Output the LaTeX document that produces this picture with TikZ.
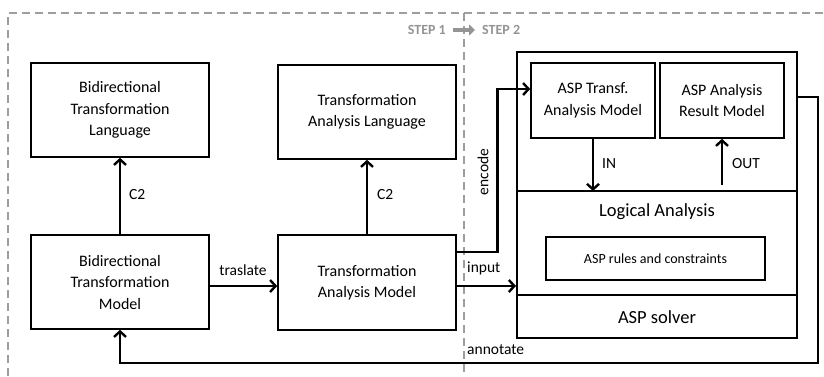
\documentclass[tikz,border=0pt]{standalone}
\usepackage{fontspec}
\setmainfont{Carlito}
\usetikzlibrary{arrows.meta}
\begin{document}
\begin{tikzpicture}[x=1pt,y=-1pt,
  box/.style={draw,line width=1.6pt,align=center,inner sep=0pt,
    font=\fontsize{16}{21.5}\selectfont},
  conn/.style={line width=2.7pt,line cap=butt,
    -{Straight Barb[length=5.5pt,width=12pt,line width=2.4pt]}},
  lbl/.style={font=\fontsize{15.5}{18}\selectfont,inner sep=1pt},
  frame/.style={draw=black!38,line width=1.2pt,dash pattern=on 8pt off 5pt},
  steptxt/.style={font=\fontsize{14}{16}\selectfont\bfseries,text=black!42,inner sep=1pt}]
\useasboundingbox (0,0) rectangle (824,376);

% dashed frame and step divider
\draw[frame] (8,376) -- (8,13) -- (824,13);
\draw[frame] (464,13) -- (464,376);
\node[steptxt,anchor=east] (s1) at (447,30) {STEP 1};
\node[steptxt,anchor=west] (s2) at (481,30) {STEP 2};
\draw[draw=black!42,line width=3.5pt,-{Triangle[length=6pt,width=11pt]},
  shorten <=6pt,shorten >=6pt] (s1) -- (s2);

% step 1 boxes
\node[box,minimum width=178pt,minimum height=94pt] (btl) at (120,110)
  {Bidirectional\\Transformation\\Language};
\node[box,minimum width=178pt,minimum height=94pt] (btm) at (120,282)
  {Bidirectional\\Transformation\\Model};
\node[box,minimum width=178pt,minimum height=94pt] (tal) at (367,112)
  {Transformation\\Analysis Language};
\node[box,minimum width=178pt,minimum height=95pt] (tam) at (367,282.5)
  {Transformation\\Analysis Model};

% step 2: ASP block
\node[draw,line width=2pt,minimum width=280pt,minimum height=286pt,inner sep=0pt] (asp) at (657,195) {};
\coordinate (la) at (657,191);
\coordinate (sv) at (657,295);
\draw[line width=1.8pt] (asp.west |- la) -- (asp.east |- la);
\draw[line width=1.8pt] (asp.west |- sv) -- (asp.east |- sv);
\node[box,minimum width=124pt,minimum height=75pt] (ast) at (593,100.5)
  {ASP Transf.\\Analysis Model};
\node[box,minimum width=124pt,minimum height=75pt] (asr) at (722,100.5)
  {ASP Analysis\\Result Model};
\node[font=\fontsize{18.5}{22}\selectfont] (lat) at (657,212) {Logical Analysis};
\node[box,minimum width=219pt,minimum height=43pt,font=\fontsize{14}{17}\selectfont] (rules) at (655.5,258.5)
  {ASP rules and constraints};
\node[font=\fontsize{18.5}{22}\selectfont] (solv) at (657,317) {ASP solver};

% connectors
\draw[conn] (btm.north) -- (btl.south);
\node[lbl,anchor=west] (c2a) at (128,195) {C2};
\draw[conn] (tam.north) -- (tal.south);
\node[lbl,anchor=west] (c2b) at (376,195) {C2};

\draw[conn] ([yshift=-4pt]btm.east) -- ([yshift=-3.5pt]tam.west);
\node[lbl] (tr) at (243,270) {traslate};

\draw[conn] ([yshift=-3.5pt]tam.east) -- ([yshift=-91pt]asp.west);
\node[lbl,anchor=west] (inp) at (466,268) {input};

\draw[conn] ([yshift=30.5pt]tam.east) -- ++(41,0) |- ([yshift=11.5pt]ast.west);
\node[lbl,rotate=90] (enc) at (483,172) {encode};

\draw[conn] (ast.south) -- (ast.south |- la);
\node[lbl,anchor=west] (inl) at (601,164) {IN};
\coordinate (outs) at (722,185);
\draw[conn] (outs) -- (asr.south);
\node[lbl,anchor=west] (outl) at (731,164) {OUT};

\draw[conn] ([yshift=98pt]asp.east) -- ++(20,0) -- ++(0,266) -| (btm.south);
\node[lbl,anchor=west] (ann) at (466,350) {annotate};
\end{tikzpicture}
\end{document}
